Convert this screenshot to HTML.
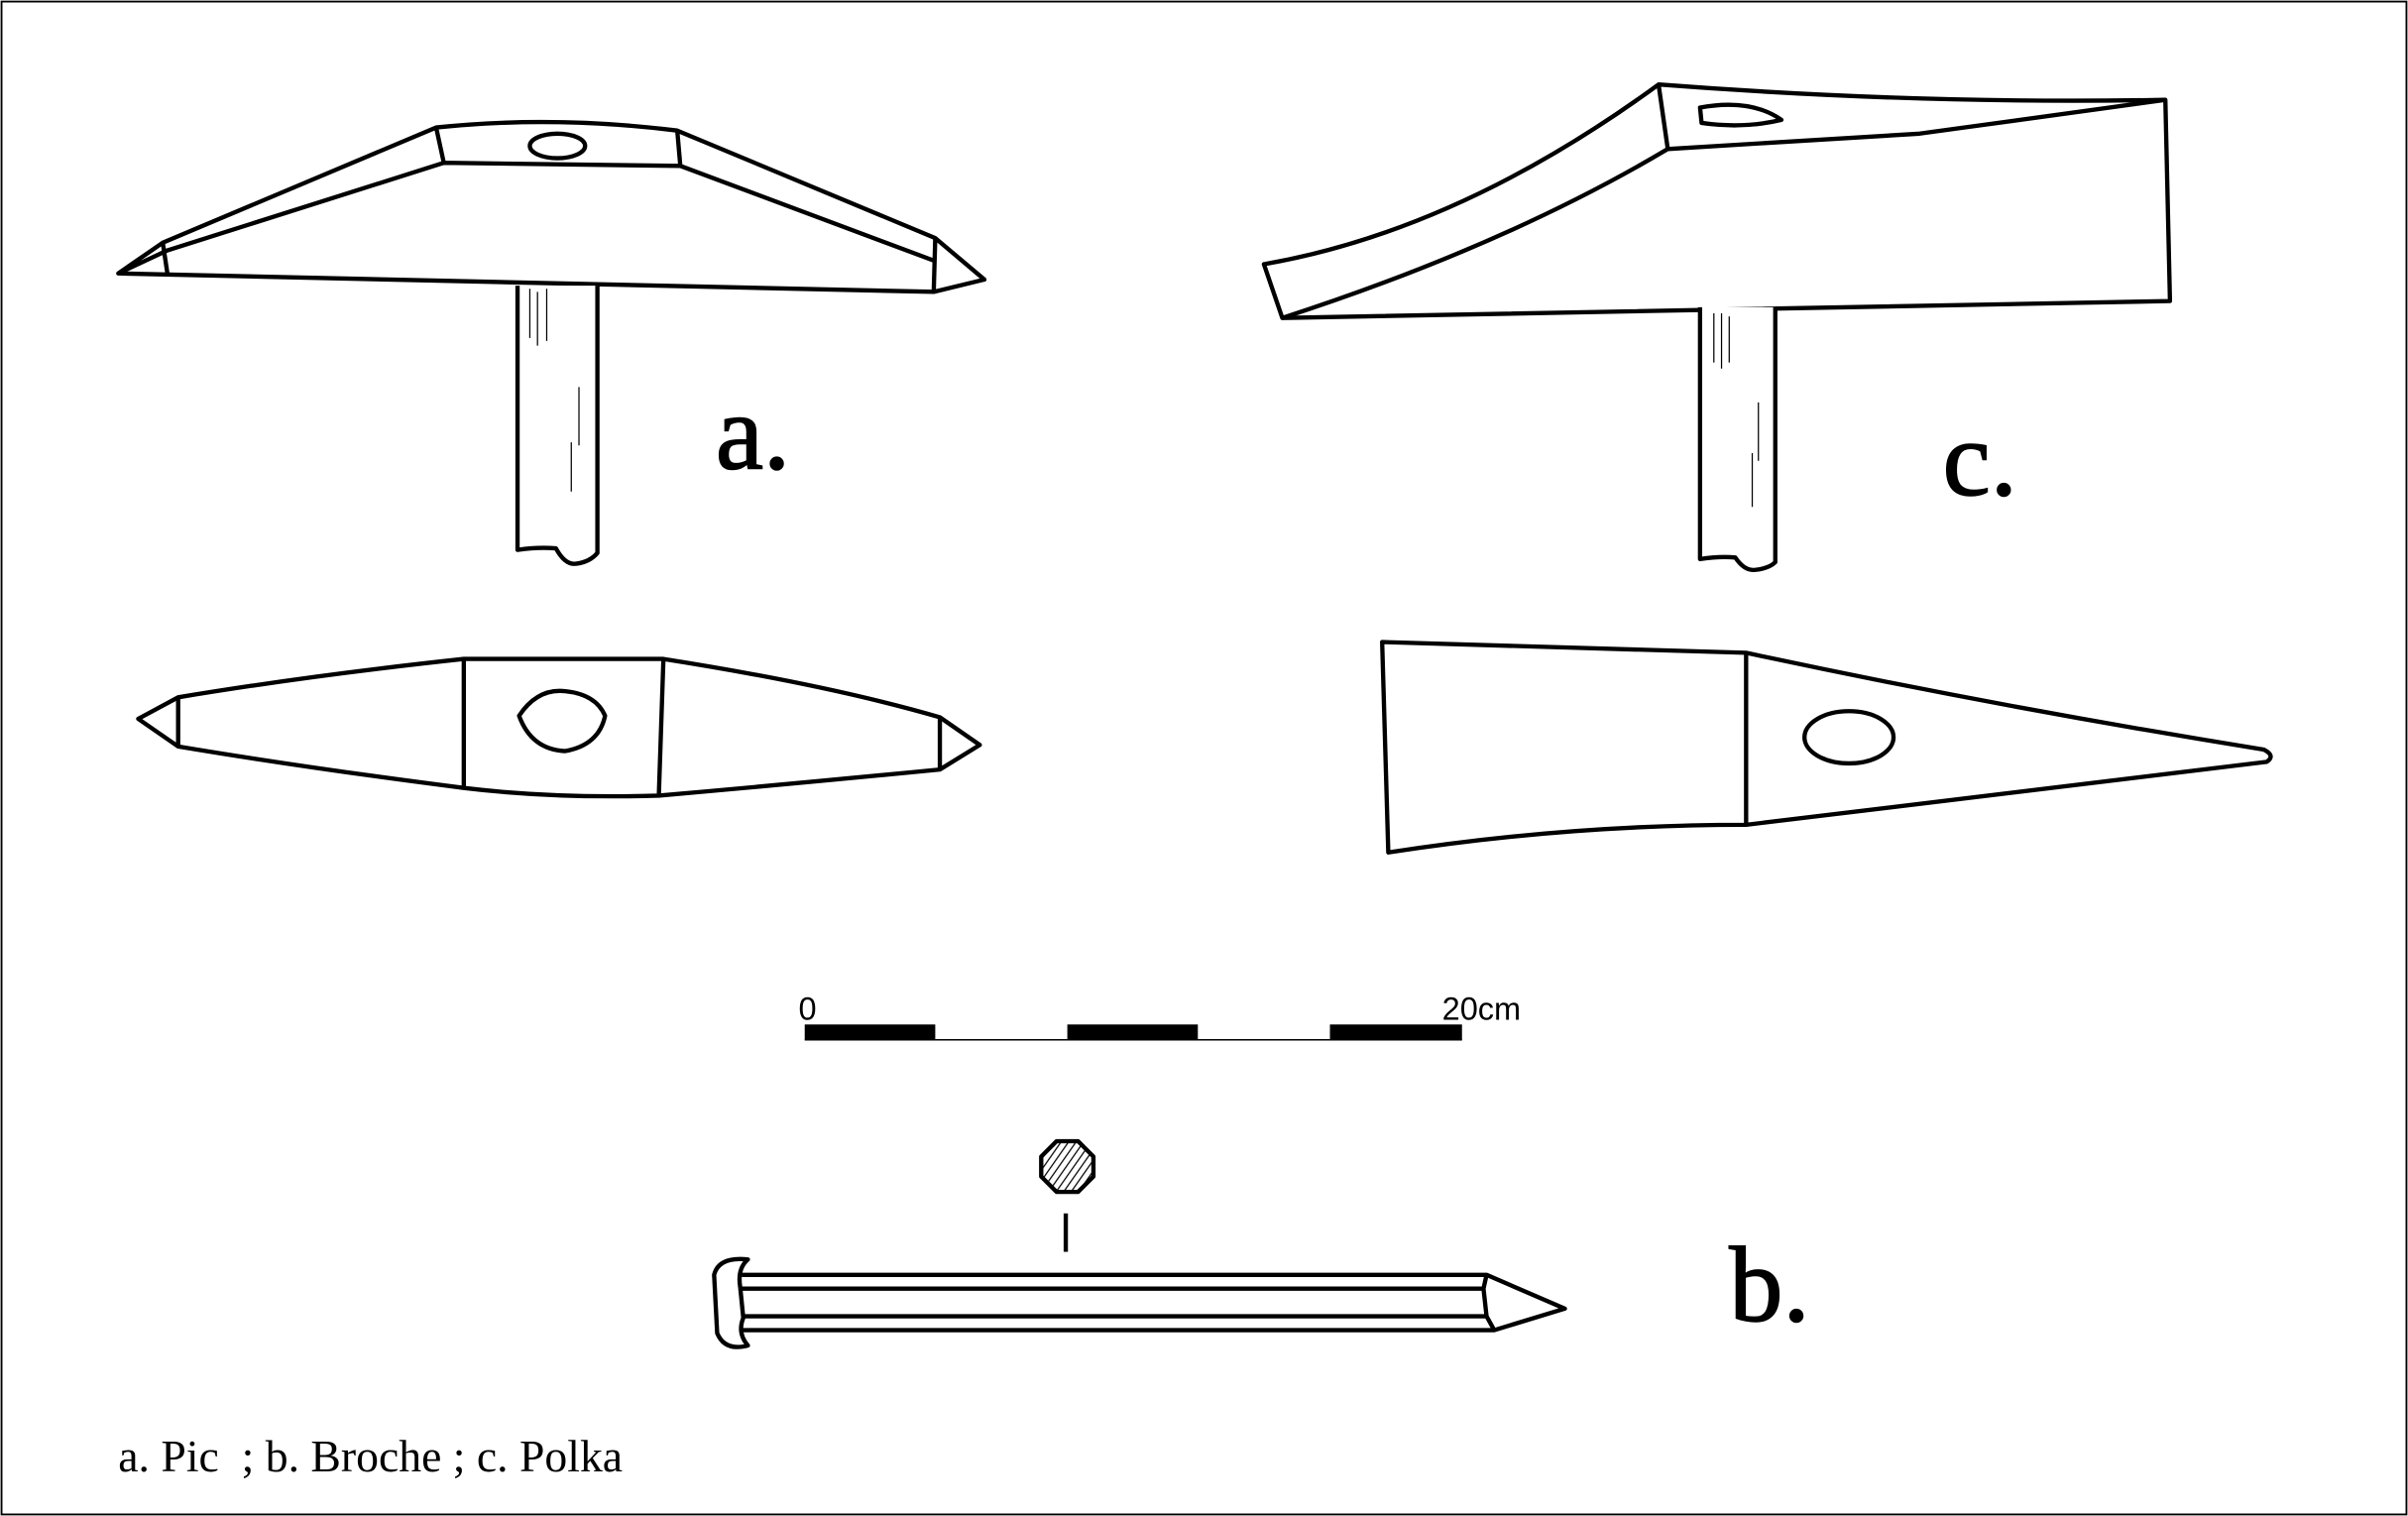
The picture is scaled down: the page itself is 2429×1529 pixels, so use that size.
<!DOCTYPE html>
<html><head><style>html,body{margin:0;padding:0;background:#fff}svg{display:block}</style></head>
<body>
<svg width="2429" height="1529" viewBox="0 0 1568 987" xmlns="http://www.w3.org/2000/svg">
<defs><pattern id="h" width="4" height="4" patternUnits="userSpaceOnUse" patternTransform="rotate(35)"><line x1="0" y1="0" x2="0" y2="4" stroke="#000" stroke-width="1.6"/></pattern></defs>
<rect x="1" y="1" width="1566" height="985" fill="#fff" stroke="#000" stroke-width="1.2"/>
<g fill="none" stroke="#000" stroke-width="2.8" stroke-linejoin="round">
<path d="M77,178 L106,158 L284,83 Q360,75 441,85 L609,155 L641,182 L608,190 Z" fill="#fff"/>
<path d="M77,178 L109,163 L289,106 L284,83 M289,106 L443,108 L441,85 M443,108 L609,170 M106,158 L109,178 M609,155 L608,190"/>
<ellipse cx="363" cy="95" rx="18" ry="8"/>
<path d="M337,186 L337,358 Q350,356 362,357 Q368,368 375,367 Q384,366 389,360 L389,186" fill="#fff"/>
<g stroke-width="0.8"><path d="M345,188 V220 M350,190 V225 M356,188 V222 M377,252 V290 M372,288 V320"/></g>
<path d="M90,468 L116,454 Q200,440 302,429 L432,429 Q540,446 612,467 L638,485 L612,501 Q520,510 429,518 Q360,520 302,513 Q200,500 116,486 Z" fill="#fff"/>
<path d="M116,454 L116,486 M302,429 L302,513 M432,429 L429,518 M612,467 L612,501"/>
<path d="M338,466 Q350,448 368,450 Q388,452 394,466 Q390,485 368,489 Q346,488 338,466 Z"/>
<path d="M823,172 Q950,150 1080,55 Q1250,68 1410,65 L1413,196 L835,207 Z" fill="#fff"/>
<path d="M835,207 Q980,160 1086,97 L1250,87 L1410,65 M1080,55 L1086,97"/>
<path d="M1107,70 Q1140,64 1160,78 Q1135,84 1108,80 Z"/>
<path d="M1107,200 L1107,364 Q1120,362 1130,363 Q1136,372 1143,371 Q1152,370 1156,366 L1156,200" fill="#fff"/>
<g stroke-width="0.8"><path d="M1116,204 V236 M1121,204 V240 M1126,206 V236 M1145,262 V300 M1141,295 V330"/></g>
<path d="M900,418 L1137,425 Q1300,460 1474,488 Q1482,492 1476,496 L1137,537 Q1020,537 904,555 Z" fill="#fff"/>
<path d="M1137,425 L1137,537"/>
<ellipse cx="1204" cy="480" rx="29" ry="17"/>
<path d="M483,830 L968,830 L1019,852 L973,866 L483,866"/>
<path d="M483,839 L966,839 M483,857 L968,857 M968,830 L966,839 L968,857 L973,866"/>
<path d="M487,820 Q468,818 465,830 L467,868 Q472,880 487,876 Q480,868 484,858 L482,838 Q480,826 487,820 Z" fill="#fff"/>
<path d="M694,790 V815"/>
<path d="M688,743 L702,743 L712,753 L712,766 L702,776 L688,776 L678,766 L678,753 Z" fill="url(#h)"/>
</g>
<line x1="524" y1="677" x2="952" y2="677" stroke="#000" stroke-width="1"/>
<rect x="524" y="667" width="85" height="10"/><rect x="695" y="667" width="85" height="10"/><rect x="866" y="667" width="86" height="10"/>
<g font-family="'Liberation Sans',sans-serif" font-size="21"><text x="520" y="664">0</text><text x="939" y="664">20cm</text></g>
<g font-family="'Liberation Serif',serif" font-size="70" stroke="#000" stroke-width="1"><text x="466" y="305">a.</text><text x="1265" y="322">c.</text><text x="1126" y="860">b.</text></g>
<text x="77" y="958" font-family="'Liberation Serif',serif" font-size="29.5" xml:space="preserve">a. Pic  ; b. Broche ; c. Polka</text>
</svg>
</body></html>
